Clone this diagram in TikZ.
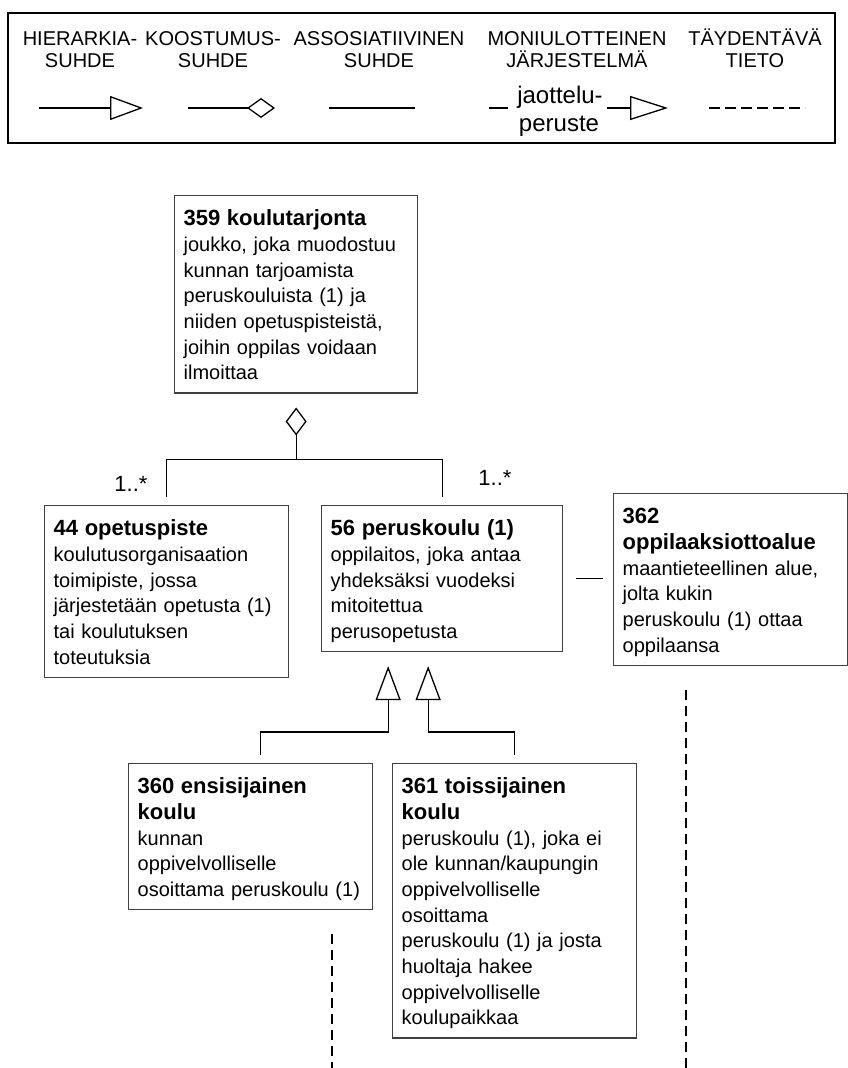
\documentclass[tikz,border=0pt]{standalone}
\usepackage{fontspec}
\setmainfont{Liberation Sans}
\usetikzlibrary{arrows.meta,calc}
\newcommand\boxfont{\fontsize{20}{25.7}\selectfont}
\newcommand\legfont{\fontsize{20}{22}\selectfont}
\newcommand\ttl[1]{{\fontsize{22}{25.7}\selectfont\bfseries #1}}
\newcommand\fl{\rule{0pt}{30pt}}
\newcommand\lstl{\rule[-13pt]{0pt}{13pt}}
\tikzset{concept/.style={draw=black!75, line width=1.3pt, anchor=north west, inner xsep=9pt,
    inner ysep=0pt, align=left, font=\boxfont},
  lnk/.style={draw, line width=1.3pt},
  gen/.style={lnk, -{Triangle[open,length=34pt,width=25pt]}, shorten <=8pt, shorten >=14pt},
  extra/.style={lnk, dash pattern=on 10pt off 6pt, shorten <=24pt},
  leg/.style={anchor=north, align=center, font=\legfont, inner sep=0pt}}

\begin{document}
\begin{tikzpicture}[x=1pt, y=-1pt]
  \useasboundingbox (0,0) rectangle (848,1068);
  % legend
  \draw[line width=1.6pt] (8,13) rectangle (835,143);
  \node[leg] (hier) at (80,27) {\rule{0pt}{18pt}HIERARKIA-\\SUHDE};
  \node[leg] (koos) at (213,27) {\rule{0pt}{18pt}KOOSTUMUS-\\SUHDE};
  \node[leg] (asso) at (379,27) {\rule{0pt}{18pt}ASSOSIATIIVINEN\\SUHDE};
  \node[leg] (moni) at (577,27) {\rule{0pt}{18pt}MONIULOTTEINEN\\JÄRJESTELMÄ};
  \node[leg] (tayd) at (755,27) {\rule{0pt}{18pt}TÄYDENTÄVÄ\\TIETO};
  \node[font=\fontsize{24}{26}\selectfont, anchor=base, inner sep=0pt] (jaot) at (560,103) {jaottelu-};
  \node[font=\fontsize{24}{26}\selectfont, anchor=base, inner sep=0pt] (perust) at (559,131) {peruste};
  \draw[lnk, -{Triangle[open,length=33pt,width=24pt]}] (39,108) -- (143,108);
  \draw[lnk, -{Diamond[open,length=28pt,width=20pt]}] (188,108) -- (275,108);
  \draw[lnk] (329,108) -- (415,108);
  \draw[lnk] (489,108) -- (508,108);
  \draw[lnk, -{Triangle[open,length=38pt,width=24pt]}] (607,108) -- (668,108);
  \draw[lnk, dash pattern=on 11pt off 5pt] (709,108) -- (805,108);
  % concepts
  \node[concept, text width=225pt] (tarj) at (174,195) {\fl\ttl{359 koulutarjonta}\\joukko, joka muodostuu\\kunnan tarjoamista\\peruskouluista (1) ja\\niiden opetuspisteistä,\\joihin oppilas voidaan\\ilmoittaa\lstl};
  \node[concept, text width=226pt] (opet) at (44,505) {\fl\ttl{44 opetuspiste}\\koulutusorganisaation\\toimipiste, jossa\\järjestetään opetusta (1)\\tai koulutuksen\\toteutuksia\lstl};
  \node[concept, text width=223pt] (perus) at (321,505) {\fl\ttl{56 peruskoulu (1)}\\oppilaitos, joka antaa\\yhdeksäksi vuodeksi\\mitoitettua\\perusopetusta\lstl};
  \node[concept, text width=216pt] (oppi) at (613,493) {\fl\ttl{362}\\\ttl{oppilaaksiottoalue}\\maantieteellinen alue,\\jolta kukin\\peruskoulu (1) ottaa\\oppilaansa\lstl};
  \node[concept, text width=226pt] (ens) at (128,763) {\fl\ttl{360 ensisijainen}\\\ttl{koulu}\\kunnan\\oppivelvolliselle\\osoittama peruskoulu (1)\lstl};
  \node[concept, text width=226pt] (tois) at (392,763) {\fl\ttl{361 toissijainen}\\\ttl{koulu}\\peruskoulu (1), joka ei\\ole kunnan/kaupungin\\oppivelvolliselle\\osoittama\\peruskoulu (1) ja josta\\huoltaja hakee\\oppivelvolliselle\\koulupaikkaa\lstl};
  % composition
  \coordinate (kbar) at ([yshift=-66pt]tarj.south);
  \draw[lnk, -{Diamond[open,length=28pt,width=21pt]}, shorten >=14pt] (kbar) -- (tarj.south);
  \draw[lnk, shorten >=8pt] (kbar) -| (opet.north);
  \draw[lnk, shorten >=8pt] (kbar) -| (perus.north);
  \node[font=\fontsize{22}{24}\selectfont, anchor=base] (m1) at (131,491) {1..*};
  \node[font=\fontsize{22}{24}\selectfont, anchor=base] (m2) at (495,485) {1..*};
  % association
  \draw[lnk, shorten <=13pt, shorten >=10pt] (perus.east) -- (perus.east -| oppi.west);
  % generalization
  \coordinate (gbar) at ([yshift=-80pt]perus.south);
  \draw[gen] ([xshift=10pt]ens.north) |- ([xshift=-54pt]gbar) -- ([xshift=-54pt]perus.south);
  \draw[gen] (tois.north) |- ([xshift=-14pt]gbar) -- ([xshift=-14pt]perus.south);
  % supplementary
  \coordinate (e1) at (332,1068);
  \coordinate (e2) at (686,1068);
  \draw[extra] (ens.south -| e1) -- (e1);
  \draw[extra] (oppi.south -| e2) -- (e2);
\end{tikzpicture}
\end{document}
